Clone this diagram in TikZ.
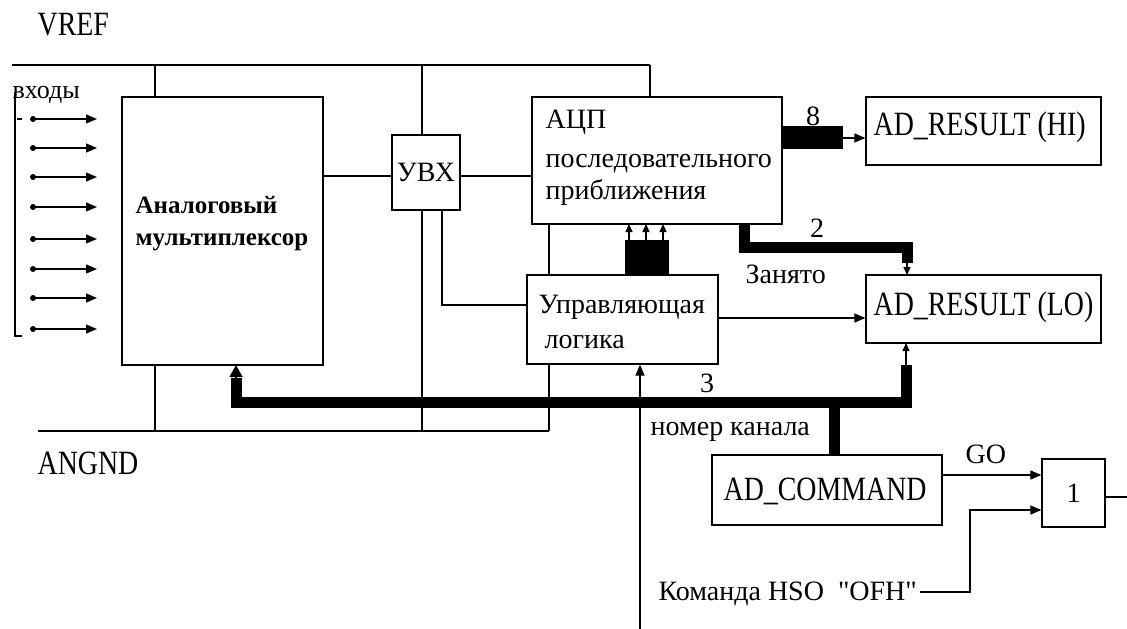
\documentclass[tikz,border=0pt]{standalone}
\usepackage{fontspec}
\setmainfont{Liberation Serif}
\newfontfamily\latf[FakeStretch=0.82]{Liberation Serif}
\newfontfamily\qf[Ligatures=ResetAll]{Liberation Serif}
\usetikzlibrary{arrows.meta}
\begin{document}
\begin{tikzpicture}[x=1pt,y=-1pt, line width=1.3pt,
  >={Triangle[length=11pt,width=9pt]},
  box/.style={draw, inner sep=0, line width=1.3pt},
  lat/.style={font=\latf\fontsize{34}{36}\selectfont, inner sep=0},
  cyr/.style={font=\fontsize{28}{30}\selectfont, inner sep=0},
  bold/.style={font=\bfseries\fontsize{25}{27}\selectfont, inner sep=0},
  bus/.style={line width=11pt, line join=miter},
  small/.style={-{Triangle[length=8pt,width=7pt]}},
  big/.style={-{Triangle[length=12pt,width=13pt]}}
]
\useasboundingbox (0,0) rectangle (1127,629);
% boxes
\node[box,minimum width=201pt,minimum height=268pt] (mux) at (222.5,231) {};
\node[box,minimum width=68pt,minimum height=75pt,cyr] (uvx) at (426,172.5) {УВХ};
\node[box,minimum width=250pt,minimum height=127pt] (adc) at (657,160.5) {};
\node[box,minimum width=191pt,minimum height=89pt] (logic) at (622.5,319.5) {};
\node[box,minimum width=235pt,minimum height=68pt] (hi) at (983.5,131) {};
\node[box,minimum width=235pt,minimum height=68pt] (lo) at (983.5,309) {};
\node[box,minimum width=230pt,minimum height=70pt] (cmd) at (827,490) {};
\node[box,minimum width=63pt,minimum height=68pt,cyr] (gate) at (1073.5,493) {1};
% texts
\node[bold,anchor=base west] (mx1) at (135,213) {Аналоговый};
\node[bold,anchor=base west] (mx2) at (135,245) {мультиплексор};
\node[cyr,anchor=base west] (adc1) at (545,128) {АЦП};
\node[cyr,anchor=base west] (adc2) at (545,167) {последовательного};
\node[cyr,anchor=base west] (adc3) at (545,199) {приближения};
\node[cyr,anchor=base west] (lg1) at (538,313) {Управляющая};
\node[cyr,anchor=base west] (lg2) at (544,348) {логика};
\node[lat,anchor=base west] (hit) at (873,135) {AD\_RESULT (HI)};
\node[lat,anchor=base west] (lot) at (873,315) {AD\_RESULT (LO)};
\node[lat,anchor=base west] (cmdt) at (723,500) {AD\_COMMAND};
\node[lat,anchor=base west] (vref) at (37,35) {VREF};
\node[lat,anchor=base west] (angnd) at (37,474) {ANGND};
\node[cyr,anchor=base west,font=\fontsize{26}{28}\selectfont] (inp) at (12,98) {входы};
\node[cyr,anchor=base] (n8) at (813,125) {8};
\node[cyr,anchor=base] (n2) at (817,237) {2};
\node[cyr,anchor=base] (n3) at (707,392) {3};
\node[cyr,anchor=base west] (busy) at (745,283) {Занято};
\node[cyr,anchor=base west] (chan) at (650,435) {номер канала};
\node[cyr,anchor=base west] (hso) at (658,600) {Команда HSO\ \ {\qf"OFH"}};
\node[cyr,anchor=base west] (go) at (965,463) {GO};
% coordinates
\coordinate (tL) at (12,65);
\coordinate (t1) at (155,65);
\coordinate (t2) at (422,65);
\coordinate (t3) at (650,65);
\coordinate (bL) at (38,431);
\coordinate (b1) at (155,431);
\coordinate (b2) at (422,431);
\coordinate (b3) at (549,431);
\coordinate (y176) at (0,176);
\coordinate (u2) at (442,305);
\coordinate (y318) at (0,318);
\coordinate (y475) at (0,475);
\coordinate (y510) at (0,510);
\coordinate (y497) at (0,497);
\coordinate (h8) at (843,138);
\coordinate (vin) at (640,629);
\coordinate (hs) at (920,592);
\coordinate (hsc) at (970,592);
\coordinate (hsu) at (970,510);
\coordinate (outE) at (1127,497);
% VREF / ANGND rails
\draw (tL) -- (t3);
\draw (t1) -- (t1 |- mux.north);
\draw (t2) -- (t2 |- uvx.north);
\draw (t3) -- (t3 |- adc.north);
\draw (bL) -- (b3);
\draw (b1) -- (b1 |- mux.south);
\draw (b2) -- (b2 |- uvx.south);
\draw (b3) -- (b3 |- logic.south);
\draw (b3 |- adc.south) -- (b3 |- logic.north);
% signal path
\draw (mux.east |- y176) -- (uvx.west |- y176);
\draw (uvx.east |- y176) -- (adc.west |- y176);
\draw (u2 |- uvx.south) -- (u2) -- (u2 -| logic.west);
% 8-bit bus
\fill (782,126) rectangle (843,149);
\draw[->] (h8) -- (hi.west |- h8);
% control block to ADC
\fill (625,240) rectangle (669,275);
\foreach \x in {629,646,663} \draw[small] (\x,241) -- (\x,224);
% 2-bit bus
\draw[bus] (744,224) -- (744,247) -- (907,247) -- (907,263);
\draw[small] (907,262) -- (907,275);
% 3-bit bus
\draw[bus] (236,378) -- (236,402) -- (906,402) -- (906,365);
\draw[bus] (834.5,402) -- (834.5,455);
\draw[big] (236,380) -- (236,365);
\draw[small] (906,366) -- (906,343);
% logic -> LO
\draw[->] (logic.east |- y318) -- (lo.west |- y318);
\draw[->] (vin) -- (vin |- logic.south);
% GO / HSO / gate
\draw[->] (cmd.east |- y475) -- (gate.west |- y475);
\draw[->] (hs) -- (hsc) -- (hsu) -- (gate.west |- y510);
\draw (gate.east |- y497) -- (outE);
% inputs
\foreach \y in {119,148,177,207,239,269,298,329} {
  \fill (33,\y) circle (3pt);
  \draw[->] (33,\y) -- (97,\y);
}
\draw (15,92) -- (15,336) -- (22,336);
\draw (17,119) -- (22,119);
\end{tikzpicture}
\end{document}
